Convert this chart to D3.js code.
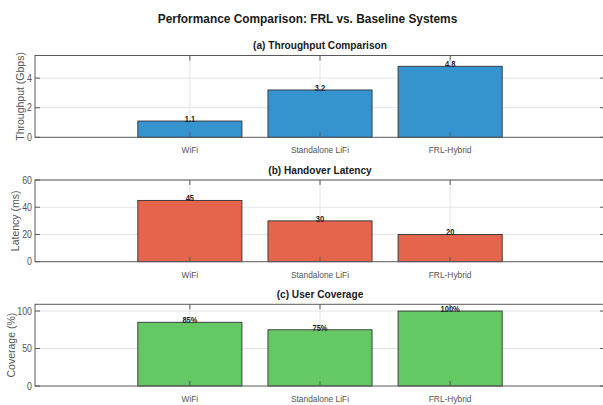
<!DOCTYPE html>
<html>
<head>
<meta charset="utf-8">
<script src="https://cdn.jsdelivr.net/npm/d3@7"></script>
<style>
  html, body { margin: 0; padding: 0; background: #fff; }
  svg { display: block; font-family: "Liberation Sans", Arial, sans-serif; }
</style>
</head>
<body>
<svg id="chart" width="603" height="405"></svg>
<script>
// Systems being compared
const categories = ["WiFi", "Standalone LiFi", "FRL-Hybrid"];

// Measured values per system
const throughput = [1.1, 3.2, 4.8];   // Gbps
const latency = [45, 30, 20];         // ms
const coverage = [85, 75, 100];       // %

// Labels printed over the bars
const throughputLabels = ["1.1", "3.2", "4.8"];
const latencyLabels = ["45", "30", "20"];
const coverageLabels = ["85%", "75%", "100%"];

// Axis tick values
const throughputTicks = [0, 2, 4];
const latencyTicks = [0, 20, 40, 60];
const coverageTicks = [0, 50, 100];

const svg = d3.select("#chart");
const left = 35, right = 605;
const squeeze = 0.88;

// Slightly condense horizontal text
function fitText(sel) {
  sel.each(function () {
    const w = this.getComputedTextLength();
    if (w > 0) {
      d3.select(this).attr("textLength", w * squeeze).attr("lengthAdjust", "spacingAndGlyphs");
    }
  });
  return sel;
}

const x = d3.scalePoint().domain(categories).range([left, right]).padding(1.19);
const barW = x.step() * 0.8;

svg.append("text")
  .attr("x", 307.5).attr("y", 22.5)
  .attr("text-anchor", "middle")
  .attr("font-size", 13.5).attr("font-weight", "bold").attr("fill", "#1a1a1a")
  .text("Performance Comparison: FRL vs. Baseline Systems")
  .call(fitText);

const panels = [
  { title: "(a) Throughput Comparison", ylabel: "Throughput (Gbps)", values: throughput, labels: throughputLabels,
    ticks: throughputTicks, ymax: 5.53, top: 55.5, bottom: 137.3, color: "#3593cf", ylabelX: 20 },
  { title: "(b) Handover Latency", ylabel: "Latency (ms)", values: latency, labels: latencyLabels,
    ticks: latencyTicks, ymax: 60, top: 180, bottom: 261.7, color: "#e4654c", ylabelX: 15 },
  { title: "(c) User Coverage", ylabel: "Coverage (%)", values: coverage, labels: coverageLabels,
    ticks: coverageTicks, ymax: 109, top: 304.3, bottom: 386, color: "#64c864", ylabelX: 11 }
];

panels.forEach(p => {
  const y = d3.scaleLinear().domain([0, p.ymax]).range([p.bottom, p.top]);
  const g = svg.append("g");

  // grid
  g.selectAll(".hgrid").data(p.ticks.filter(t => t > 0)).join("line")
    .attr("x1", left).attr("x2", right)
    .attr("y1", d => y(d)).attr("y2", d => y(d))
    .attr("stroke", "#e4e4e4").attr("stroke-width", 1);
  g.selectAll(".vgrid").data(categories).join("line")
    .attr("x1", d => x(d)).attr("x2", d => x(d))
    .attr("y1", p.top).attr("y2", p.bottom)
    .attr("stroke", "#e4e4e4").attr("stroke-width", 1);

  // bars
  g.selectAll(".bar").data(categories).join("rect")
    .attr("x", d => x(d) - barW / 2)
    .attr("width", barW)
    .attr("y", (d, i) => y(p.values[i]))
    .attr("height", (d, i) => y(0) - y(p.values[i]))
    .attr("fill", p.color)
    .attr("stroke", "#333").attr("stroke-width", 0.9);

  // value labels
  g.selectAll(".val").data(categories).join("text")
    .attr("x", d => x(d))
    .attr("y", (d, i) => y(p.values[i]) + 1)
    .attr("text-anchor", "middle")
    .attr("font-size", 8.5).attr("font-weight", "bold").attr("fill", "#222")
    .text((d, i) => p.labels[i])
    .call(fitText);

  // axes box
  g.append("rect")
    .attr("x", left).attr("y", p.top)
    .attr("width", right - left).attr("height", p.bottom - p.top)
    .attr("fill", "none").attr("stroke", "#5a5a5a").attr("stroke-width", 1);

  // y ticks (inward, both sides)
  p.ticks.forEach(t => {
    g.append("line").attr("x1", left).attr("x2", left + 5)
      .attr("y1", y(t)).attr("y2", y(t)).attr("stroke", "#5a5a5a");
    g.append("line").attr("x1", right).attr("x2", right - 5)
      .attr("y1", y(t)).attr("y2", y(t)).attr("stroke", "#5a5a5a");
  });
  g.selectAll(".ytl").data(p.ticks).join("text")
    .attr("x", left - 3).attr("y", d => y(d) + 3.5)
    .attr("text-anchor", "end")
    .attr("font-size", 10).attr("fill", "#555")
    .text(d => d)
    .call(fitText);

  // x ticks (inward, top and bottom)
  categories.forEach(c => {
    g.append("line").attr("x1", x(c)).attr("x2", x(c))
      .attr("y1", p.bottom).attr("y2", p.bottom - 5).attr("stroke", "#5a5a5a");
    g.append("line").attr("x1", x(c)).attr("x2", x(c))
      .attr("y1", p.top).attr("y2", p.top + 5).attr("stroke", "#5a5a5a");
  });
  g.selectAll(".xtl").data(categories).join("text")
    .attr("x", d => x(d)).attr("y", p.bottom + 16)
    .attr("text-anchor", "middle")
    .attr("font-size", 9.5).attr("fill", "#555")
    .text(d => d)
    .call(fitText);

  // panel title
  g.append("text")
    .attr("x", (left + right) / 2).attr("y", p.top - 6.5)
    .attr("text-anchor", "middle")
    .attr("font-size", 11.5).attr("font-weight", "bold").attr("fill", "#1a1a1a")
    .text(p.title)
    .call(fitText);

  // y label
  g.append("text")
    .attr("transform", `translate(${p.ylabelX + 3.5},${(p.top + p.bottom) / 2}) rotate(-90)`)
    .attr("text-anchor", "middle")
    .attr("font-size", 10.5).attr("fill", "#555")
    .text(p.ylabel);
});
</script>
</body>
</html>
